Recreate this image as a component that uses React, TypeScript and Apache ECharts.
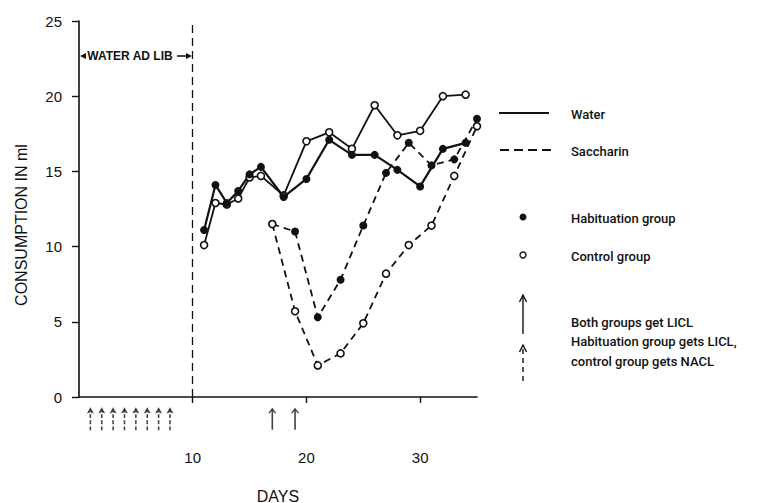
import React, { useEffect, useRef } from "react";
import * as echarts from "echarts";

// ---- data ----
const waterDays = [11, 12, 13, 14, 15, 16, 18, 20, 22, 24, 26, 28, 30, 32, 34];
const waterHabituation = [11.1, 14.1, 12.9, 13.7, 14.8, 15.3, 13.3, 14.5, 17.1, 16.1, 16.1, 15.1, 14.0, 16.5, 16.9];
const waterControl = [10.1, 12.9, 12.8, 13.2, 14.6, 14.7, 13.4, 17.0, 17.6, 16.5, 19.4, 17.4, 17.7, 20.0, 20.1];

const saccharinDays = [17, 19, 21, 23, 25, 27, 29, 31, 33, 35];
const saccharinHabituation = [11.5, 11.0, 5.3, 7.8, 11.4, 14.9, 16.9, 15.4, 15.8, 18.5];
const saccharinControl = [11.5, 5.7, 2.1, 2.9, 4.9, 8.2, 10.1, 11.4, 14.7, 18.0];

const dashedArrowDays = [1, 2, 3, 4, 5, 6, 7, 8]; // habituation LiCl, control NaCl
const solidArrowDays = [17, 19]; // both groups LiCl
const arrowLevel = -1.45;

const xTickLabels = [10, 20, 30];
const adLibEndDay = 10;

const legendTexts = {
  water: "Water",
  saccharin: "Saccharin",
  hab: "Habituation group",
  ctrl: "Control group",
  both: "Both groups get LICL",
  split1: "Habituation group gets LICL,",
  split2: "control group gets NACL",
};

const FONT = "'Liberation Sans', Arial, sans-serif";
const LFONT = "Roboto, 'Liberation Sans', Arial, sans-serif";

const dashedArrowPath =
  "path://M5,0 L9.5,8 L5,6.5 L0.5,8 Z M4,9 L6,9 L6,14 L4,14 Z M4,17 L6,17 L6,22 L4,22 Z M4,25 L6,25 L6,30 L4,30 Z";
const solidArrowPath =
  "path://M5,0 L9.5,7 L8.2,7.8 L5.9,4.2 L5.9,30 L4.1,30 L4.1,4.2 L1.8,7.8 L0.5,7 Z";

const zip = (xs: number[], ys: number[]) => xs.map((x, i) => [x, ys[i]]);

export default function App() {
  const ref = useRef<HTMLDivElement>(null);
  useEffect(() => {
    if (!ref.current) return;
    const chart = echarts.init(ref.current, null, { renderer: "svg" });
    const black = "#111";
    const openItem = { color: "#fff", borderColor: black, borderWidth: 1.6 };
    const filledItem = { color: black, borderColor: black, borderWidth: 0 };
    const legendText = (x: number, y: number, text: string) => ({
      type: "text",
      x,
      y,
      style: {
        text,
        fill: black,
        font: `500 13px ${LFONT}`,
        textVerticalAlign: "middle",
        textAlign: "left",
      },
    });
    chart.setOption({
      animation: false,
      backgroundColor: "#fff",
      grid: { left: 79, right: 281, top: 21, bottom: 106, outerBoundsMode: "none" },
      xAxis: {
        type: "value",
        min: 0,
        max: 35,
        interval: 10,
        splitLine: { show: false },
        axisLine: { show: true, onZero: false, lineStyle: { color: black, width: 1.6 } },
        axisTick: { show: true, length: 6, customValues: xTickLabels, lineStyle: { color: black, width: 1.4 } },
        axisLabel: {
          customValues: xTickLabels,
          margin: 53,
          fontSize: 15,
          fontFamily: FONT,
          color: black,
        },
        name: "DAYS",
        nameLocation: "middle",
        nameGap: 91,
        nameTextStyle: { fontSize: 16, fontFamily: FONT, color: black },
      },
      yAxis: {
        type: "value",
        min: 0,
        max: 25,
        interval: 5,
        splitLine: { show: false },
        axisLine: { show: true, lineStyle: { color: black, width: 1.6 } },
        axisTick: { show: true, length: 7, lineStyle: { color: black, width: 1.4 } },
        axisLabel: { margin: 17, fontSize: 15, fontFamily: FONT, color: black },
      },
      graphic: [
        // y-axis title
        {
          type: "text",
          x: 21,
          y: 225,
          rotation: Math.PI / 2,
          style: {
            text: "CONSUMPTION IN ml",
            fill: black,
            font: `16px ${FONT}`,
            textAlign: "center",
            textVerticalAlign: "middle",
          },
        },
        // WATER AD LIB bracket
        {
          type: "text",
          x: 130,
          y: 56,
          style: {
            text: "WATER AD LIB",
            fill: black,
            font: `bold 12px ${FONT}`,
            textAlign: "center",
            textVerticalAlign: "middle",
          },
        },
        { type: "polygon", shape: { points: [[80, 56], [86, 53], [86, 59]] }, style: { fill: black } },
        { type: "polygon", shape: { points: [[192, 56], [186, 53], [186, 59]] }, style: { fill: black } },
        { type: "line", shape: { x1: 177, y1: 56, x2: 187, y2: 56 }, style: { stroke: black, lineWidth: 1.5 } },
        // legend
        { type: "line", shape: { x1: 499, y1: 113, x2: 549, y2: 113 }, style: { stroke: black, lineWidth: 2 } },
        legendText(571, 114, legendTexts.water),
        { type: "line", shape: { x1: 500, y1: 150, x2: 553, y2: 150 }, style: { stroke: black, lineWidth: 1.8, lineDash: [9, 5] } },
        legendText(571, 151, legendTexts.saccharin),
        { type: "circle", shape: { cx: 523, cy: 217, r: 3.5 }, style: { fill: black } },
        legendText(571, 218, legendTexts.hab),
        { type: "circle", shape: { cx: 523, cy: 255, r: 3 }, style: { fill: "#fff", stroke: black, lineWidth: 1.4 } },
        legendText(571, 256, legendTexts.ctrl),
        { type: "line", shape: { x1: 523, y1: 334, x2: 523, y2: 296 }, style: { stroke: black, lineWidth: 1.4 } },
        { type: "polyline", shape: { points: [[519.5, 302], [523, 295], [526.5, 302]] }, style: { stroke: black, lineWidth: 1.4, fill: null } },
        legendText(571, 322, legendTexts.both),
        { type: "line", shape: { x1: 523, y1: 381, x2: 523, y2: 347 }, style: { stroke: black, lineWidth: 1.4, lineDash: [5, 4] } },
        { type: "polyline", shape: { points: [[519.5, 352], [523, 345], [526.5, 352]] }, style: { stroke: black, lineWidth: 1.4, fill: null } },
        legendText(571, 341, legendTexts.split1),
        legendText(571, 361, legendTexts.split2),
      ],
      series: [
        {
          name: "Water control",
          type: "line",
          data: zip(waterDays, waterControl),
          symbol: "circle",
          symbolSize: 7,
          itemStyle: openItem,
          lineStyle: { color: black, width: 1.8 },
          z: 3,
        },
        {
          name: "Water habituation",
          type: "line",
          data: zip(waterDays, waterHabituation),
          symbol: "circle",
          symbolSize: 8,
          itemStyle: filledItem,
          lineStyle: { color: black, width: 2.2 },
          z: 3,
          markLine: {
            silent: true,
            symbol: "none",
            label: { show: false },
            lineStyle: { type: [8, 5], color: black, width: 1.3 },
            data: [[{ coord: [adLibEndDay, 0] }, { coord: [adLibEndDay, 25] }]],
          },
        },
        {
          name: "Saccharin habituation",
          type: "line",
          data: zip(saccharinDays, saccharinHabituation),
          symbol: "circle",
          symbolSize: 8,
          itemStyle: filledItem,
          lineStyle: { color: black, width: 1.8, type: [7, 5] },
          z: 3,
        },
        {
          name: "Saccharin control",
          type: "line",
          data: zip(saccharinDays, saccharinControl),
          symbol: "circle",
          symbolSize: 7,
          itemStyle: openItem,
          lineStyle: { color: black, width: 1.8, type: [7, 5] },
          z: 3,
        },
        {
          name: "Hab LiCl / Ctrl NaCl",
          type: "scatter",
          clip: false,
          data: dashedArrowDays.map((d) => [d, arrowLevel]),
          symbol: dashedArrowPath,
          symbolSize: [7, 23],
          itemStyle: { color: black },
          z: 4,
        },
        {
          name: "Both LiCl",
          type: "scatter",
          clip: false,
          data: solidArrowDays.map((d) => [d, arrowLevel]),
          symbol: solidArrowPath,
          symbolSize: [8, 22],
          itemStyle: { color: black },
          z: 4,
        },
      ],
    });
    return () => chart.dispose();
  }, []);
  return (
    <div
      ref={ref}
      style={{ position: "fixed", left: 0, top: 0, width: 758, height: 503, background: "#fff" }}
    />
  );
}
